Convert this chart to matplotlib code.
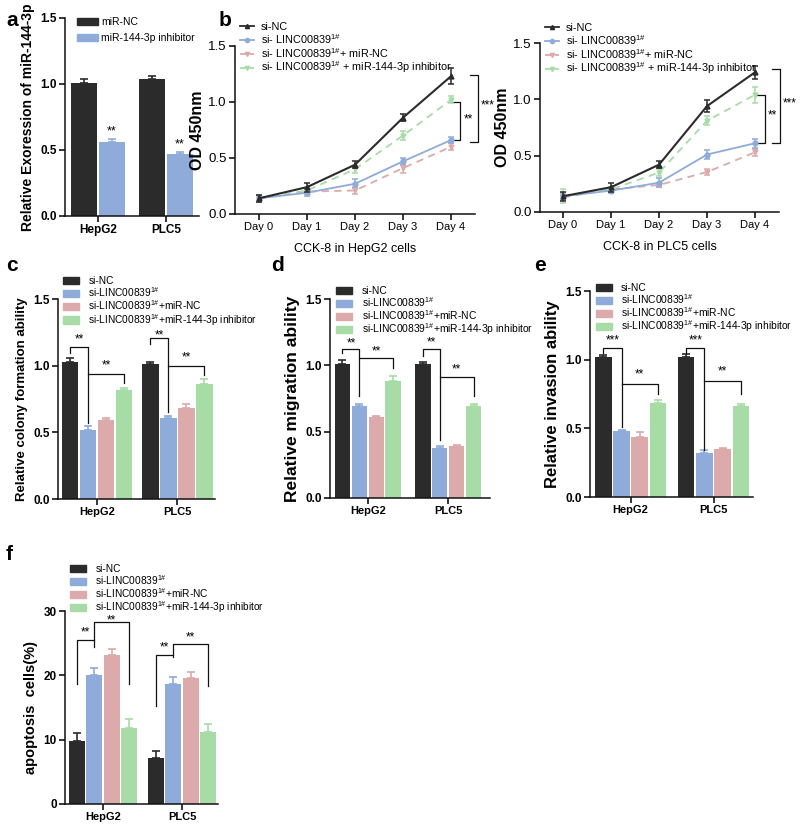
import matplotlib
matplotlib.use('Agg')
import matplotlib.pyplot as plt
import numpy as np
from matplotlib.lines import Line2D
from matplotlib.patches import Patch

plt.rcParams['font.family'] = ['Liberation Sans', 'DejaVu Sans']
plt.rcParams['mathtext.fontset'] = 'custom'
plt.rcParams['mathtext.rm'] = 'Liberation Sans'
plt.rcParams['mathtext.it'] = 'Liberation Sans:italic'
plt.rcParams['mathtext.bf'] = 'Liberation Sans:bold'

# ---------------- data ----------------
groups = ['HepG2', 'PLC5']
a_labels = ['miR-NC', 'miR-144-3p inhibitor']
a_nc = [1.01, 1.04]
a_nc_err = [0.03, 0.02]
a_inh = [0.56, 0.47]
a_inh_err = [0.02, 0.015]

days = ['Day 0', 'Day 1', 'Day 2', 'Day 3', 'Day 4']
sup = r'$^{\mathregular{1\#}}$'
b_labels = ['si-NC', 'si- LINC00839' + sup, 'si- LINC00839' + sup + '+ miR-NC',
            'si- LINC00839' + sup + ' + miR-144-3p inhibitor']
hep_sinc = [0.14, 0.24, 0.44, 0.86, 1.23]
hep_sinc_err = [0.03, 0.04, 0.03, 0.03, 0.07]
hep_si = [0.14, 0.19, 0.27, 0.47, 0.66]
hep_si_err = [0.03, 0.03, 0.04, 0.03, 0.03]
hep_minc = [0.14, 0.20, 0.21, 0.41, 0.60]
hep_minc_err = [0.02, 0.02, 0.03, 0.04, 0.03]
hep_inh = [0.14, 0.21, 0.40, 0.70, 1.02]
hep_inh_err = [0.02, 0.02, 0.03, 0.04, 0.03]
plc_sinc = [0.14, 0.22, 0.42, 0.94, 1.24]
plc_sinc_err = [0.04, 0.04, 0.03, 0.05, 0.06]
plc_si = [0.14, 0.19, 0.26, 0.51, 0.61]
plc_si_err = [0.03, 0.02, 0.04, 0.04, 0.04]
plc_minc = [0.13, 0.20, 0.24, 0.355, 0.53]
plc_minc_err = [0.02, 0.02, 0.02, 0.03, 0.03]
plc_inh = [0.14, 0.20, 0.35, 0.81, 1.04]
plc_inh_err = [0.06, 0.02, 0.03, 0.04, 0.07]

bar_labels = ['si-NC', 'si-LINC00839' + sup, 'si-LINC00839' + sup + '+miR-NC',
              'si-LINC00839' + sup + '+miR-144-3p inhibitor']
# rows: series (si-NC, si-LINC, +miR-NC, +inhibitor); cols: HepG2, PLC5
c_means = [[1.025, 1.01], [0.52, 0.61], [0.59, 0.68], [0.82, 0.86]]
c_errs = [[0.03, 0.02], [0.03, 0.01], [0.02, 0.03], [0.01, 0.04]]
d_means = [[1.01, 1.01], [0.69, 0.38], [0.61, 0.39], [0.885, 0.69]]
d_errs = [[0.03, 0.015], [0.015, 0.015], [0.005, 0.01], [0.035, 0.02]]
e_means = [[1.02, 1.02], [0.48, 0.32], [0.44, 0.35], [0.685, 0.66]]
e_errs = [[0.015, 0.02], [0.01, 0.02], [0.03, 0.01], [0.02, 0.02]]
f_means = [[9.8, 7.2], [20.1, 18.6], [23.1, 19.6], [11.75, 11.2]]
f_errs = [[1.2, 1.0], [1.1, 1.1], [1.0, 0.9], [1.5, 1.3]]

# ---------------- style ----------------
BLACK = '#2b2b2b'
BLUE = '#8eabd9'
PINK = '#dcaaaa'
GREEN = '#a7dca7'
COLS = [BLACK, BLUE, PINK, GREEN]

W, H = 800, 825
fig = plt.figure(figsize=(8, 8.25), dpi=100)


def px_axes(left, right, top, bottom):
    return fig.add_axes([left / W, 1 - bottom / H, (right - left) / W, (bottom - top) / H])


def style(ax, bold_ticks=True, fs=8.5):
    for s in ['top', 'right']:
        ax.spines[s].set_visible(False)
    for s in ['left', 'bottom']:
        ax.spines[s].set_linewidth(1.1)
        ax.spines[s].set_color('#111111')
    ax.tick_params(direction='out', length=4, width=1.1, labelsize=fs, pad=2)
    if bold_ticks:
        for t in ax.get_xticklabels() + ax.get_yticklabels():
            t.set_fontweight('bold')


def fig_legend(ax, handles, labels, x, y, fs, hl, htp, ls):
    ax.legend(handles, labels, loc='upper left', bbox_to_anchor=(x / W, 1 - y / H),
              bbox_transform=fig.transFigure, frameon=False, fontsize=fs,
              handlelength=hl, handletextpad=htp, labelspacing=ls,
              borderpad=0, borderaxespad=0)


def bracket(ax, x1, x2, y, y1e, y2e, txt, dy, fs=8.5):
    ax.plot([x1, x1, x2, x2], [y1e, y, y, y2e], color='#111111', lw=0.9, clip_on=False)
    ax.text((x1 + x2) / 2, y + dy, txt, ha='center', va='center', fontsize=fs, clip_on=False)


def letter(x, y, s):
    fig.text(x / W, 1 - y / H, s, fontsize=15, fontweight='bold', ha='left', va='center')


# ---------------- panel a ----------------
axa = px_axes(65, 199, 18, 216)
xg = np.arange(len(groups))
off = 0.205
wa = 0.38
axa.bar(xg - off, a_nc, wa, color=BLACK)
axa.bar(xg + off, a_inh, wa, color=BLUE)
axa.errorbar(xg - off, a_nc, yerr=[np.zeros(2), a_nc_err], fmt='none', ecolor=BLACK, capsize=3, elinewidth=1.2, capthick=1.2)
axa.errorbar(xg + off, a_inh, yerr=[np.zeros(2), a_inh_err], fmt='none', ecolor=BLUE, capsize=3, elinewidth=1.2, capthick=1.2)
for xi, v, e in zip(xg + off, a_inh, a_inh_err):
    axa.text(xi, v + e + 0.06, '**', ha='center', va='center', fontsize=9)
axa.set_xlim(-0.49, 1.49)
axa.set_ylim(0, 1.5)
axa.set_yticks([0, 0.5, 1.0, 1.5])
axa.set_xticks(xg)
axa.set_xticklabels(groups)
style(axa)
axa.tick_params(axis='x', labelsize=8.5)
axa.set_ylabel('Relative Exoression of miR-144-3p', fontsize=10, fontweight='bold', labelpad=4)
fig_legend(axa, [Patch(color=BLACK), Patch(color=BLUE)], a_labels, 77, 17, 7.5, 2.0, 0.35, 0.6)
letter(6, 20, 'a')


# ---------------- panel b ----------------
def line_panel(ax, series, errs, xlabel):
    x = np.arange(len(days))
    specs = [(BLACK, '-', '^'), (BLUE, '-', 'o'), (PINK, '--', 'v'), (GREEN, '--', 'v')]
    order = [2, 3, 1, 0]
    for i in order:
        c, lsty, m = specs[i]
        ax.errorbar(x, series[i], yerr=errs[i], color=c, ls=lsty, lw=1.5 if i == 0 else 1.3,
                    marker=m, ms=3.5, capsize=2.5, elinewidth=1.1, capthick=1.1,
                    dashes=(4, 3) if lsty == '--' else (None, None), zorder=3 + (i == 0))
    ax.set_xlim(-0.5, 4.5)
    ax.set_ylim(0, 1.5)
    ax.set_yticks([0, 0.5, 1.0, 1.5])
    ax.set_xticks(x)
    ax.set_xticklabels(days)
    style(ax, bold_ticks=False, fs=9.5)
    ax.tick_params(axis='x', labelsize=8)
    ax.set_xlabel(xlabel, fontsize=9, labelpad=8)
    ax.set_ylabel('OD 450nm', fontsize=11.5, fontweight='bold', labelpad=2)
    handles = [Line2D([], [], color=s[0], ls=s[1], marker=s[2], ms=3, lw=1.3) for s in specs]
    return handles


axbl = px_axes(235, 475, 46, 214)
h = line_panel(axbl, [hep_sinc, hep_si, hep_minc, hep_inh],
               [hep_sinc_err, hep_si_err, hep_minc_err, hep_inh_err], 'CCK-8 in HepG2 cells')
fig_legend(axbl, h, b_labels, 240, 22, 7.8, 1.3, 0.6, 0.0)
axbl.plot([4.02, 4.19, 4.19, 4.02], [1.0, 1.0, 0.66, 0.66], color='#111111', lw=0.9, clip_on=False)
axbl.text(4.27, 0.84, '**', fontsize=8.5, ha='left', va='center')
axbl.plot([4.39, 4.56, 4.56, 4.39], [1.24, 1.24, 0.64, 0.64], color='#111111', lw=0.9, clip_on=False)
axbl.text(4.63, 0.97, '***', fontsize=8.5, ha='left', va='center')
letter(219, 20, 'b')

axbr = px_axes(540, 779, 43, 212)
h = line_panel(axbr, [plc_sinc, plc_si, plc_minc, plc_inh],
               [plc_sinc_err, plc_si_err, plc_minc_err, plc_inh_err], 'CCK-8 in PLC5 cells')
axbr.set_xlim(-0.48, 4.5)
fig_legend(axbr, h, b_labels, 545, 23, 7.8, 1.3, 0.6, 0.0)
axbr.plot([4.03, 4.2, 4.2, 4.03], [1.04, 1.04, 0.61, 0.61], color='#111111', lw=0.9, clip_on=False)
axbr.text(4.26, 0.86, '**', fontsize=8.5, ha='left', va='center')
axbr.plot([4.36, 4.52, 4.52, 4.36], [1.27, 1.27, 0.61, 0.61], color='#111111', lw=0.9, clip_on=False)
axbr.text(4.57, 0.96, '***', fontsize=8.5, ha='left', va='center')


# ---------------- bar panels ----------------
def bar_panel(ax, means, errs, slot, width, ylim, yticks, ylabel, ylfs):
    xg = np.arange(len(groups))
    for si in range(4):
        xs = xg + (si - 1.5) * slot
        ax.bar(xs, means[si], width, color=COLS[si], zorder=2)
        ax.errorbar(xs, means[si], yerr=[np.zeros(2), errs[si]], fmt='none', ecolor=COLS[si],
                    capsize=3, elinewidth=1.2, capthick=1.2, zorder=2)
    ax.set_ylim(*ylim)
    ax.set_yticks(yticks)
    ax.set_xticks(xg)
    ax.set_xticklabels(groups)
    style(ax)
    ax.tick_params(axis='x', labelsize=8)
    ax.set_ylabel(ylabel, fontsize=ylfs, fontweight='bold', labelpad=4)
    return [Patch(color=c) for c in COLS]


def xpos(g, s, slot):
    return g + (s - 1.5) * slot


# panel c
slot = 0.225
axc = px_axes(58, 215, 299, 499)
hc = bar_panel(axc, c_means, c_errs, slot, 0.205, (0, 1.5), [0, 0.5, 1.0, 1.5],
               'Relative colony formation ability', 9.5)
axc.set_xlim(-0.49, 1.47)
fig_legend(axc, hc, bar_labels, 63, 276, 7.3, 1.6, 0.9, -0.06)
bracket(axc, xpos(0, 0, slot), xpos(0, 1, slot), 1.14, 1.095, 0.57, '**', 0.06)
bracket(axc, xpos(0, 1, slot), xpos(0, 3, slot), 0.94, 0.94, 0.87, '**', 0.06)
bracket(axc, xpos(1, 0, slot), xpos(1, 1, slot), 1.21, 1.165, 0.655, '**', 0.02)
bracket(axc, xpos(1, 1, slot), xpos(1, 3, slot), 1.0, 1.0, 0.93, '**', 0.06)
letter(6, 265, 'c')

# panel d
slot_d = 0.21
axd = px_axes(330, 490, 299, 498)
hd = bar_panel(axd, d_means, d_errs, slot_d, 0.19, (0, 1.5), [0, 0.5, 1.0, 1.5],
               'Relative migration ability', 12.5)
axd.set_xlim(-0.47, 1.52)
fig_legend(axd, hd, bar_labels, 336, 286, 7.4, 1.6, 0.9, -0.08)
bracket(axd, xpos(0, 0, slot_d), xpos(0, 1, slot_d), 1.12, 1.09, 0.77, '**', 0.045)
bracket(axd, xpos(0, 1, slot_d), xpos(0, 3, slot_d), 1.055, 1.055, 0.98, '**', 0.05)
bracket(axd, xpos(1, 0, slot_d), xpos(1, 1, slot_d), 1.12, 1.07, 0.44, '**', 0.055)
bracket(axd, xpos(1, 1, slot_d), xpos(1, 3, slot_d), 0.91, 0.91, 0.77, '**', 0.06)
letter(271, 265, 'd')

# panel e
slot_e = 0.22
axe = px_axes(590, 753, 291, 497)
he = bar_panel(axe, e_means, e_errs, slot_e, 0.2, (0, 1.5), [0, 0.5, 1.0, 1.5],
               'Relative invasion ability', 12)
axe.set_xlim(-0.49, 1.476)
fig_legend(axe, he, bar_labels, 596, 283, 7.4, 1.6, 0.8, -0.08)
bracket(axe, xpos(0, 0, slot_e), xpos(0, 1, slot_e), 1.087, 1.05, 0.51, '***', 0.05)
bracket(axe, xpos(0, 1, slot_e), xpos(0, 3, slot_e), 0.82, 0.82, 0.75, '**', 0.07)
bracket(axe, xpos(1, 0, slot_e), xpos(1, 1, slot_e), 1.087, 1.05, 0.345, '***', 0.05)
bracket(axe, xpos(1, 1, slot_e), xpos(1, 3, slot_e), 0.845, 0.845, 0.75, '**', 0.07)
letter(534, 265, 'e')

# panel f
slot_f = 0.22
axf = px_axes(65, 218, 611, 804)
hf = bar_panel(axf, f_means, f_errs, slot_f, 0.2, (0, 30), [0, 10, 20, 30],
               'apoptosis  cells(%)', 10.5)
axf.set_xlim(-0.48, 1.455)
fig_legend(axf, hf, bar_labels, 70, 564, 7.3, 1.6, 0.9, -0.08)
bracket(axf, xpos(0, 0, slot_f), xpos(0, 1, slot_f), 25.5, 18.6, 24.4, '**', 1.1)
bracket(axf, xpos(0, 1, slot_f), xpos(0, 3, slot_f), 28.35, 25.5, 18.6, '**', 0.25)
bracket(axf, xpos(1, 0, slot_f), xpos(1, 1, slot_f), 23.2, 15.2, 22.9, '**', 1.1)
bracket(axf, xpos(1, 1, slot_f), xpos(1, 3, slot_f), 24.9, 23.2, 18.3, '**', 1.0)
letter(6, 555, 'f')

fig.savefig('out.png', dpi=100)
